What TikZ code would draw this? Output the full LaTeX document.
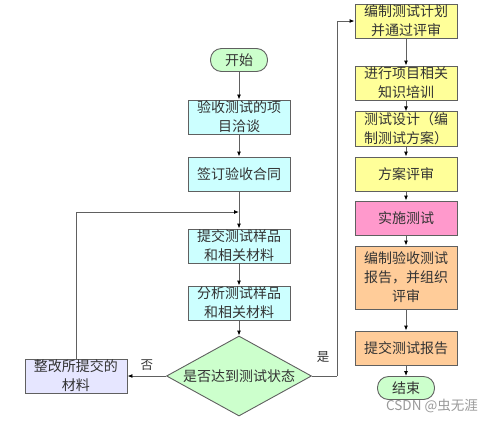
\documentclass[tikz,border=0pt]{standalone}
\usepackage{fontspec}
\setmainfont{Noto Sans CJK SC}
\usetikzlibrary{shapes.geometric,arrows.meta}
\definecolor{cyanf}{HTML}{CCFFFF}
\definecolor{yelf}{HTML}{FFFF99}
\definecolor{pinkf}{HTML}{FF99CC}
\definecolor{orgf}{HTML}{FFCC99}
\definecolor{grnf}{HTML}{CCFFCC}
\definecolor{lavf}{HTML}{E6E6FF}
\definecolor{edgec}{HTML}{606060}
\definecolor{txtc}{HTML}{333333}
\tikzset{
  box/.style={draw=edgec, line width=0.9pt, minimum width=102pt, minimum height=34pt, inner sep=1pt, align=center, font=\fontsize{14}{19}\selectfont, text=txtc},
  term/.style={draw=edgec, line width=0.9pt, minimum width=57pt, minimum height=23pt, rounded corners=11pt, fill=grnf, inner sep=1pt, font=\fontsize{14}{18}\selectfont, text=txtc},
  arr/.style={draw=edgec, line width=0.9pt, -{Latex[length=5pt,width=4pt,color=black]}},
  ln/.style={draw=edgec, line width=0.9pt},
  lbl/.style={font=\fontsize{12.5}{14}\selectfont, text=txtc}
}
\begin{document}
\begin{tikzpicture}[x=1pt,y=-1pt]
\useasboundingbox (0,0) rectangle (498,424);
\node[term] (start) at (239,60) {开始};
\node[box, fill=cyanf] (b1) at (239,117) {验收测试的项\\目洽谈};
\node[box, fill=cyanf] (b2) at (239,174) {签订验收合同};
\coordinate (j) at (239,212);
\node[box, fill=cyanf] (b3) at (239,246) {提交测试样品\\和相关材料};
\node[box, fill=cyanf] (b4) at (239,303) {分析测试样品\\和相关材料};
\node[diamond, draw=edgec, line width=0.9pt, fill=grnf, aspect=1.8, minimum width=145pt, minimum height=80pt, inner sep=0pt, font=\fontsize{14}{18}\selectfont, text=txtc] (dia) at (239,376) {是否达到测试状态};
\node[box, fill=lavf] (fix) at (76,376) {整改所提交的\\材料};
\coordinate (rc) at (337,376);

\node[box, fill=yelf] (r1) at (406,21) {编制测试计划\\并通过评审};
\node[box, fill=yelf] (r2) at (406,83) {进行项目相关\\知识培训};
\node[box, fill=yelf] (r3) at (406,129) {测试设计（编\\制测试方案）};
\node[box, fill=yelf] (r4) at (406,174) {方案评审};
\node[box, fill=pinkf] (r5) at (406,218) {实施测试};
\node[box, fill=orgf, minimum height=63pt] (r6) at (406,277.5) {编制验收测试\\报告，并组织\\评审};
\node[box, fill=orgf] (r7) at (406,348) {提交测试报告};
\node[term] (end) at (406,388) {结束};

\draw[arr] (start) -- (b1);
\draw[arr] (b1) -- (b2);
\draw[ln] (b2) -- (j);
\draw[arr] (j) -- (b3);
\draw[arr] (b3) -- (b4);
\draw[arr] (b4) -- (dia);
\draw[arr] (dia.west) -- node[lbl, above, pos=0.5, yshift=2pt] {否} (fix.east);
\draw[arr] (fix.north) |- (j);
\draw[ln] (dia.east) -- (rc);
\draw[arr] (rc) |- (r1.west);
\node[lbl] (yes) at (323,357) {是};
\draw[arr] (r1) -- (r2);
\draw[arr] (r2) -- (r3);
\draw[arr] (r3) -- (r4);
\draw[arr] (r4) -- (r5);
\draw[arr] (r5) -- (r6);
\draw[arr] (r6) -- (r7);
\draw[arr] (r7) -- (end);
\node[text=gray!80, font=\fontsize{13.5}{15}\selectfont] (wm) at (432,406) {CSDN @虫无涯};
\end{tikzpicture}
\end{document}
